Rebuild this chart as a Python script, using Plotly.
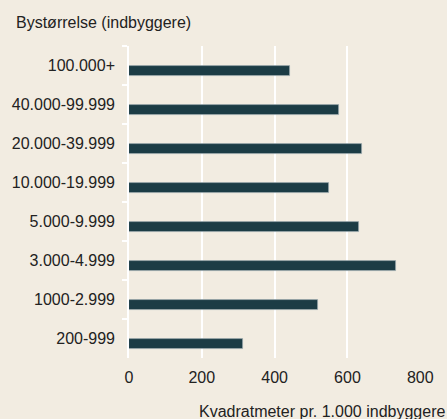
import plotly.graph_objects as go

categories = ["100.000+", "40.000-99.999", "20.000-39.999", "10.000-19.999",
              "5.000-9.999", "3.000-4.999", "1000-2.999", "200-999"]
values = [443, 578, 640, 550, 633, 734, 520, 312]
x_ticks = [0, 200, 400, 600, 800]

BG = "#f2ece1"
BAR = "#1c3c45"
FONT = "Liberation Sans, Arial, sans-serif"
TXT = "#222222"

fig = go.Figure(go.Bar(
    y=categories, x=values, orientation="h",
    marker=dict(color=BAR, line=dict(color="rgba(160,175,180,0.8)", width=0.8)),
    width=0.27, offset=0.01,
    hoverinfo="x+y",
))

fig.update_layout(
    width=447, height=419,
    paper_bgcolor=BG, plot_bgcolor=BG,
    margin=dict(l=129, r=26, t=46, b=61),
    font=dict(family=FONT, size=16, color=TXT),
    showlegend=False,
    bargap=0,
    title=dict(text="Bystørrelse (indbyggere)", xref="container", yref="container",
               x=16/447, xanchor="left", y=1-22.5/419, yanchor="middle",
               font=dict(family=FONT, size=16, color=TXT), pad=dict(l=0, t=0, b=0, r=0)),
    annotations=[dict(text="Kvadratmeter pr. 1.000 indbyggere", xref="paper", yref="paper",
                      x=1, y=0, xanchor="right", yanchor="top", xshift=26, yshift=-43,
                      showarrow=False, font=dict(family=FONT, size=16, color=TXT))],
)

fig.update_xaxes(
    range=[0, 802], tickvals=x_ticks, ticktext=[str(v) for v in x_ticks],
    showgrid=True, gridcolor="white", gridwidth=1.6, zeroline=False,
    showline=False, ticks="", ticklabelstandoff=8,
    tickfont=dict(family=FONT, size=16, color=TXT),
)
fig.update_yaxes(
    categoryorder="array", categoryarray=categories, autorange="reversed",
    showgrid=False, zeroline=False,
    showline=True, linecolor="white", linewidth=1.6,
    ticks="outside", tickson="boundaries", ticklen=5, tickwidth=1.6, tickcolor="white",
    ticklabelstandoff=9,
    tickfont=dict(family=FONT, size=16, color=TXT),
)

fig.write_html("out.html", config={"displayModeBar": False},
               post_script="document.body.style.margin='0';document.body.style.padding='0';document.body.style.background='" + BG + "';")
